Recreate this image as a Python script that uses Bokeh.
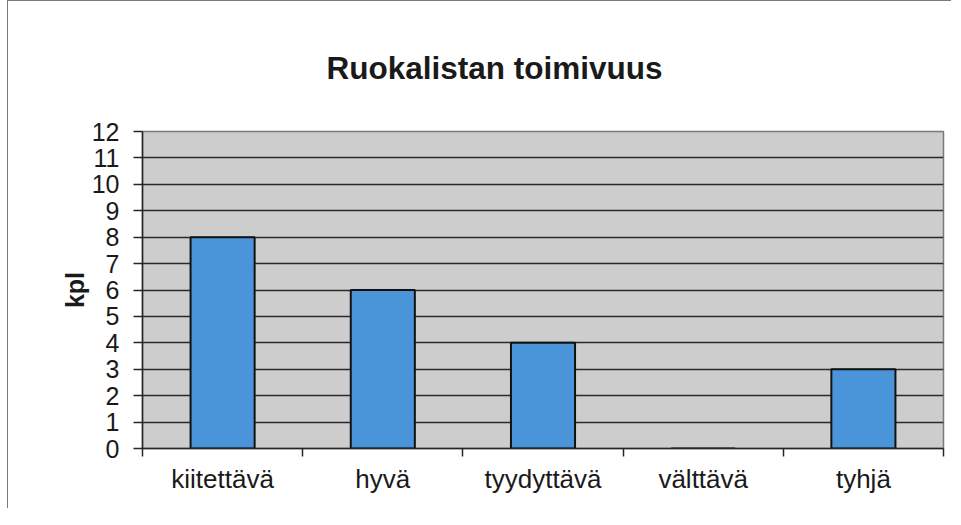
from bokeh.plotting import figure
from bokeh.models import FixedTicker, ColumnDataSource, Range1d
from bokeh.embed import file_html
from bokeh.resources import INLINE

# ---- data ----
categories = ["kiitettävä", "hyvä", "tyydyttävä", "välttävä", "tyhjä"]
counts = [8, 6, 4, 0, 3]
y_ticks = list(range(0, 13))
title_text = "Ruokalistan toimivuus"
y_label = "kpl"

x_pos = [i + 0.5 for i in range(len(categories))]
src = ColumnDataSource(dict(x=x_pos, count=counts, cat=categories))

FONT = "Liberation Sans"
TXT = "#1a1a1a"
DARK = "#262626"

W, H = 944, 508
p = figure(width=W, height=H,
           x_range=Range1d(0, len(categories)), y_range=Range1d(y_ticks[0], y_ticks[-1]),
           output_backend="svg", toolbar_location=None,
           min_border_left=134, min_border_right=9,
           min_border_top=118, min_border_bottom=61)
p.styles = {"border-left": "1px solid #7a7a7a", "border-top": "1px solid #7a7a7a",
            "margin-left": "7px", "margin-top": "0px"}

p.background_fill_color = "#CDCDCD"
p.border_fill_color = "white"
p.outline_line_color = "#7a7a7a"
p.outline_line_width = 1.5

p.vbar(x="x", top="count", bottom=0, width=0.4, source=src,
       fill_color="#4A94DA", line_color="#111111", line_width=2)

# title
p.title.text = title_text
p.title.align = "left"
p.title.offset = 184
p.title.standoff = 92
p.title.text_font = FONT
p.title.text_font_size = "31.5px"
p.title.text_font_style = "bold"
p.title.text_color = TXT

# y axis
p.yaxis.ticker = FixedTicker(ticks=y_ticks)
p.yaxis.major_tick_out = 9
p.yaxis.major_tick_in = 0
p.yaxis.minor_tick_out = 0
p.yaxis.minor_tick_in = 0
p.yaxis.axis_line_color = DARK
p.yaxis.axis_line_width = 1.5
p.yaxis.major_tick_line_color = DARK
p.yaxis.major_tick_line_width = 1.5
p.yaxis.major_label_text_font = FONT
p.yaxis.major_label_text_font_size = "25px"
p.yaxis.major_label_text_color = TXT
p.yaxis.major_label_standoff = 14
p.yaxis.axis_label = y_label
p.yaxis.axis_label_text_font = FONT
p.yaxis.axis_label_text_font_size = "25px"
p.yaxis.axis_label_text_font_style = "bold"
p.yaxis.axis_label_text_color = TXT
p.yaxis.axis_label_standoff = 0

# x axis: labels at category centres, tick marks at category boundaries
p.xaxis.ticker = FixedTicker(ticks=x_pos, minor_ticks=list(range(len(categories) + 1)))
p.xaxis.major_label_overrides = {x: c for x, c in zip(x_pos, categories)}
p.xaxis.major_tick_out = 0
p.xaxis.major_tick_in = 0
p.xaxis.minor_tick_out = 8
p.xaxis.minor_tick_in = 0
p.xaxis.minor_tick_line_color = DARK
p.xaxis.minor_tick_line_width = 1.5
p.xaxis.axis_line_color = DARK
p.xaxis.axis_line_width = 1.5
p.xaxis.major_label_text_font = FONT
p.xaxis.major_label_text_font_size = "26px"
p.xaxis.major_label_text_color = TXT
p.xaxis.major_label_standoff = 7

p.xgrid.visible = False
p.ygrid.ticker = FixedTicker(ticks=y_ticks[1:-1])
p.ygrid.grid_line_color = "#2a2a2a"
p.ygrid.grid_line_width = 1.5

open("out.html", "w").write(file_html(p, INLINE))
